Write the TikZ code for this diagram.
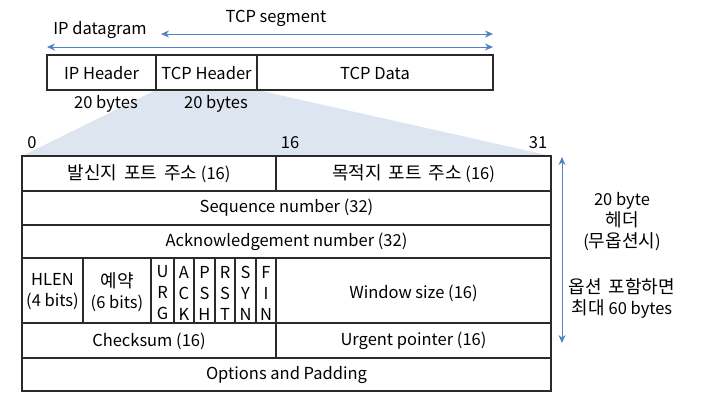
\documentclass[tikz,border=0pt]{standalone}
\usepackage{fontspec}
\setmainfont{Noto Sans CJK KR}
\newfontfamily\kofont[WordSpace=1.7]{Noto Sans CJK KR}
\newcommand\ko[1]{{\kofont\fontsize{18}{21}\selectfont #1}}
\usetikzlibrary{arrows.meta}
\definecolor{arrblue}{HTML}{4F83C2}
\definecolor{fanblue}{HTML}{DCE5F0}
\definecolor{linegray}{HTML}{2A2A2A}
\tikzset{
  cell/.style={draw=linegray, line width=1.2pt},
  lbl/.style={inner sep=0pt, font=\fontsize{16.5}{21}\selectfont},
  flag/.style={inner sep=0pt, align=center, font=\fontsize{16.5}{21}\selectfont},
  dim/.style={arrblue, line width=1pt, {Stealth[length=8pt,width=7pt]}-{Stealth[length=8pt,width=7pt]}},
}
\begin{document}
\begin{tikzpicture}[x=1pt,y=-1pt]
\useasboundingbox (0,0) rectangle (716,400);
% fan
\fill[fanblue] (156,90) -- (257,90) -- (551,156) -- (22,156) -- cycle;
% top bar
\draw[cell] (47,55) rectangle (493,90);
\draw[cell] (156,55) -- (156,90);
\draw[cell] (257,55) -- (257,90);
\node[lbl] (iph) at (101.5,73) {IP Header};
\node[lbl] (tcph) at (206.5,73) {TCP Header};
\node[lbl] (tcpd) at (375,73) {TCP Data};
\node[lbl] (b1) at (106,104) {20 bytes};
\node[lbl] (b2) at (216,104) {20 bytes};
% arrows
\coordinate (ipa) at (47,47); \coordinate (ipb) at (493,47);
\coordinate (tsa) at (161,34); \coordinate (tsb) at (493,34);
\draw[dim] (ipa) -- (ipb);
\draw[dim] (tsa) -- (tsb);
\node[lbl] (ipd) at (100,30) {IP datagram};
\node[lbl] (tseg) at (276,18) {TCP segment};
% bit labels
\node[lbl] (n0) at (32,143) {0};
\node[lbl] (n16) at (290,143) {16};
\node[lbl] (n31) at (538,143) {31};
% header table
\draw[cell] (22,156) rectangle (551,391);
\foreach \y in {191,225,258,323,358} \draw[cell] (22,\y) -- (551,\y);
\draw[cell] (276,156) -- (276,191);
\draw[cell] (276,258) -- (276,358);
\foreach \x in {83,151,174,194,215,235,256} \draw[cell] (\x,258) -- (\x,323);
\node[lbl] (src) at (149,174) {\ko{발신지 포트 주소} (16)};
\node[lbl] (dst) at (413.5,174) {\ko{목적지 포트 주소} (16)};
\node[lbl] (seq) at (286.5,208) {Sequence number (32)};
\node[lbl] (ack) at (286.5,241.5) {Acknowledgement number (32)};
\node[flag] (hlen) at (52.5,292) {HLEN\\(4 bits)};
\node[flag] (res) at (117,292) {\ko{예약}\\(6 bits)};
\node[flag] (urg) at (162.5,293) {U\\R\\G};
\node[flag] (ackf) at (184,293) {A\\C\\K};
\node[flag] (psh) at (204.5,293) {P\\S\\H};
\node[flag] (rst) at (225,293) {R\\S\\T};
\node[flag] (syn) at (245.5,293) {S\\Y\\N};
\node[flag] (fin) at (266,293) {F\\I\\N};
\node[lbl] (win) at (413.5,293) {Window size (16)};
\node[lbl] (chk) at (149,341) {Checksum (16)};
\node[lbl] (urgp) at (413.5,341) {Urgent pointer (16)};
\node[lbl] (opt) at (286.5,375) {Options and Padding};
% right dimension
\coordinate (ra) at (562,157); \coordinate (rb) at (562,343);
\draw[dim] (ra) -- (rb);
\node[flag] (r1) at (622,222) {20 byte\\\ko{헤더}\\(\ko{무옵션시})};
\node[flag] (r2) at (622,298) {\ko{옵션 포함하면}\\\ko{최대} 60 bytes};
\end{tikzpicture}
\end{document}
